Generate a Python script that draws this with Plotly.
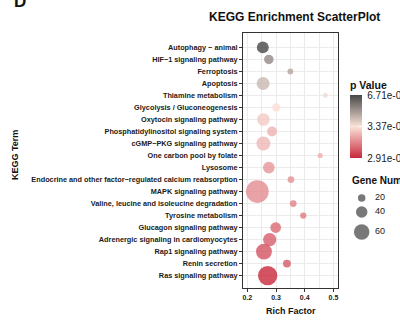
import plotly.graph_objects as go

# KEGG pathways, listed from the top row of the chart to the bottom row
terms = [
    "Autophagy − animal",
    "HIF−1 signaling pathway",
    "Ferroptosis",
    "Apoptosis",
    "Thiamine metabolism",
    "Glycolysis / Gluconeogenesis",
    "Oxytocin signaling pathway",
    "Phosphatidylinositol signaling system",
    "cGMP−PKG signaling pathway",
    "One carbon pool by folate",
    "Lysosome",
    "Endocrine and other factor−regulated calcium reabsorption",
    "MAPK signaling pathway",
    "Valine, leucine and isoleucine degradation",
    "Tyrosine metabolism",
    "Glucagon signaling pathway",
    "Adrenergic signaling in cardiomyocytes",
    "Rap1 signaling pathway",
    "Renin secretion",
    "Ras signaling pathway",
]
rich_factor = [0.254, 0.275, 0.350, 0.255, 0.472, 0.301, 0.256, 0.286, 0.256, 0.454,
               0.275, 0.352, 0.235, 0.360, 0.395, 0.299, 0.278, 0.258, 0.338, 0.271]
gene_number = [42, 30, 12, 47, 6, 24, 46, 32, 52, 8,
               41, 16, 96, 16, 14, 36, 49, 62, 22, 79]
p_value = [6.71e-3, 5.3e-3, 4.7e-3, 4.3e-3, 3.6e-3, 3.3e-3, 2.9e-3, 2.5e-3, 2.6e-3, 2.4e-3,
           2.0e-3, 1.9e-3, 1.8e-3, 1.6e-3, 1.5e-3, 1.2e-3, 1.0e-3, 0.8e-3, 0.9e-3, 2.91e-5]

x_ticks = [0.2, 0.3, 0.4, 0.5]
p_breaks = [2.91e-5, 3.37e-3, 6.71e-3]
p_break_labels = ["2.91e-05", "3.37e-03", "6.71e-03"]
size_breaks = [20, 40, 60]

FONT = "Liberation Sans, Arial, Helvetica, sans-serif"
colorscale = [[0.0, "#C8283C"], [0.5, "#FBE3D9"], [1.0, "#474747"]]


def diameter(n):
    # marker diameter in px for a gene count
    return 3.5 + 0.2 * n


# page geometry (px)
W, H = 400, 325
L, T, B = 243, 33, 37
PANEL_R = 338
paper_w = W - L
paper_h = H - T - B


def px_x(px):
    return (px - L) / paper_w


def px_y(py):
    return (H - B - py) / paper_h


order = list(reversed(terms))

fig = go.Figure()
fig.add_trace(go.Scatter(
    x=rich_factor, y=terms, mode="markers",
    marker=dict(
        size=[diameter(n) for n in gene_number],
        sizemode="diameter",
        color=p_value, colorscale=colorscale,
        cmin=min(p_breaks), cmax=max(p_breaks),
        opacity=0.8, line=dict(width=0),
        colorbar=dict(
            x=px_x(350), xanchor="left", xref="paper", xpad=0, ypad=0,
            y=px_y(158), yanchor="bottom",
            thickness=12, lenmode="pixels", len=80,
            outlinewidth=0,
            tickvals=p_breaks, ticktext=["\u00a0" + s for s in p_break_labels],
            ticks="inside", tickcolor="white", ticklen=3, tickwidth=1,
            tickfont=dict(family=FONT, size=10, color="#1a1a1a"),
            title=dict(text="<b>p Value</b>", side="top",
                       font=dict(family=FONT, size=10.5, color="#111")),
        ),
    ),
    showlegend=False, xaxis="x", yaxis="y",
))

# size key for gene counts
key_y = [198, 212, 232]
fig.add_trace(go.Scatter(
    x=[11.7] * len(size_breaks), y=key_y, mode="markers",
    marker=dict(size=[diameter(n) for n in size_breaks], color="#3f3f3f",
                line=dict(width=0)),
    xaxis="x2", yaxis="y2", showlegend=False, hoverinfo="skip",
))
fig.add_trace(go.Scatter(
    x=[25] * len(size_breaks), y=key_y, mode="text",
    text=[str(v) for v in size_breaks], textposition="middle right",
    textfont=dict(family=FONT, size=9, color="#1a1a1a"),
    xaxis="x2", yaxis="y2", showlegend=False, hoverinfo="skip",
))

axis_common = dict(
    showline=True, linecolor="#333333", linewidth=1, mirror=True,
    ticks="outside", ticklen=3, tickcolor="#333333", tickwidth=1,
    gridcolor="#EBEBEB", gridwidth=1, zeroline=False, automargin=False,
)

fig.update_layout(
    width=W, height=H,
    margin=dict(l=L, r=0, t=T, b=B, pad=0, autoexpand=False),
    paper_bgcolor="white", plot_bgcolor="white",
    font=dict(family=FONT, color="#1a1a1a"),
    xaxis=dict(
        domain=[0, px_x(PANEL_R)], range=[0.185, 0.516],
        tickvals=x_ticks, ticktext=[f"<b>{v:.1f}</b>" for v in x_ticks],
        tickfont=dict(family=FONT, size=7, color="#1a1a1a"),
        minor=dict(dtick=0.05, tick0=0.2, showgrid=True, gridcolor="#EBEBEB", gridwidth=0.7),
        **axis_common,
    ),
    yaxis=dict(
        type="category", categoryorder="array", categoryarray=order,
        range=[-1.03, 20.2],
        tickvals=order, ticktext=[f"<b>{t}</b>" for t in order],
        tickfont=dict(family=FONT, size=7.3, color="#1a1a1a"),
        **axis_common,
    ),
    xaxis2=dict(domain=[px_x(350), 1], range=[0, W - 350], visible=False,
                anchor="y2", fixedrange=True),
    yaxis2=dict(domain=[0, 1], range=[H - B, T], visible=False,
                anchor="x2", fixedrange=True),
    annotations=[
        dict(text="<b>KEGG Enrichment ScatterPlot</b>", x=px_x(294), y=px_y(16.5),
             xref="paper", yref="paper", xanchor="center", yanchor="middle",
             showarrow=False, font=dict(family=FONT, size=12, color="#111")),
        dict(text="<b>D</b>", x=px_x(12), y=px_y(1), xref="paper", yref="paper",
             xanchor="left", yanchor="middle", showarrow=False,
             font=dict(family=FONT, size=17, color="#111")),
        dict(text="<b>Rich Factor</b>", x=px_x(290.5), y=px_y(311),
             xref="paper", yref="paper", xanchor="center", yanchor="middle",
             showarrow=False, font=dict(family=FONT, size=9, color="#111")),
        dict(text="<b>KEGG Term</b>", x=px_x(15), y=px_y(155), textangle=-90,
             xref="paper", yref="paper", xanchor="center", yanchor="middle",
             showarrow=False, font=dict(family=FONT, size=9, color="#111")),
        dict(text="<b>Gene Number</b>", x=px_x(350), y=px_y(180),
             xref="paper", yref="paper", xanchor="left", yanchor="middle",
             showarrow=False, font=dict(family=FONT, size=10, color="#111")),
    ],
)

fig.write_html("out.html")
